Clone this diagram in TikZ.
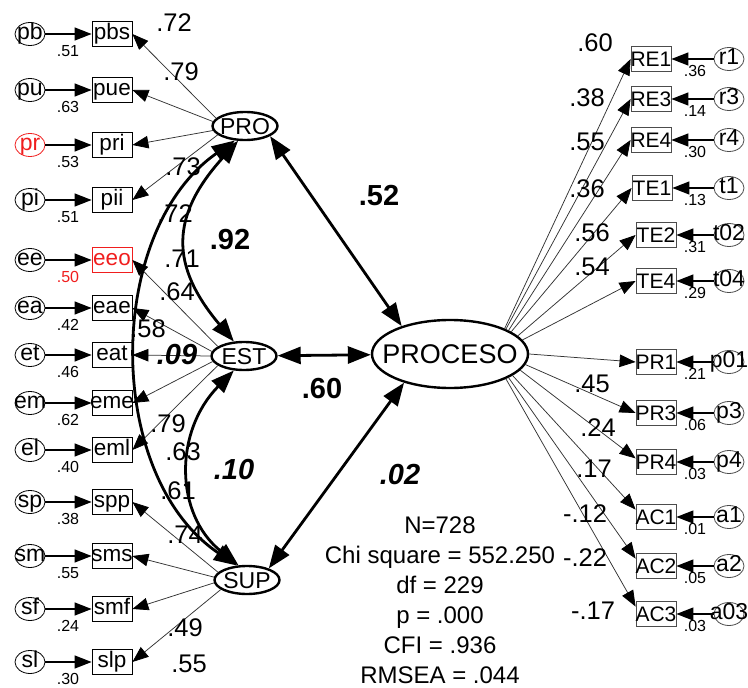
\documentclass[tikz,border=0pt]{standalone}
\usepackage{fontspec}
\setmainfont{Liberation Sans}
\usetikzlibrary{arrows.meta,shapes.geometric}
\definecolor{amosred}{RGB}{240,30,30}
\newcommand{\zw}[1]{\makebox[0pt]{#1}}
\begin{document}
\begin{tikzpicture}[x=1pt,y=-1pt,
  obs/.style={draw=black!70, line width=0.8pt, rectangle, minimum width=40pt, minimum height=25pt,
    inner sep=0pt, font=\fontsize{22.5}{22}\selectfont, text height=16.2pt, text depth=4.7pt},
  obsr/.style={draw=black!70, line width=0.8pt, rectangle, minimum width=40pt, minimum height=25pt,
    inner sep=0pt, font=\fontsize{21}{22}\selectfont, text height=15pt, text depth=0pt},
  err/.style={draw=black!70, line width=0.8pt, ellipse, minimum width=30pt, minimum height=23pt,
    inner sep=0pt, font=\fontsize{23}{23}\selectfont, text height=11.9pt, text depth=0pt},
  lat/.style={draw, line width=2.4pt, ellipse, minimum width=65pt, minimum height=28pt,
    inner sep=0pt, font=\fontsize{23}{23}\selectfont, text height=16.4pt, text depth=0pt},
  load/.style={draw=black!80, line width=0.75pt, -{Triangle[length=16pt,width=12.5pt,color=black]}},
  erra/.style={draw, line width=1.2pt, -{Triangle[length=17pt,width=13pt]}},
  cov/.style={draw, line width=2.8pt, {Triangle[length=23pt,width=17pt]}-{Triangle[length=23pt,width=17pt]}},
  coef/.style={font=\fontsize{25.5}{25}\selectfont, inner sep=0pt, text height=18.2pt, text depth=0pt},
  var/.style={font=\fontsize{16}{16}\selectfont, inner sep=0pt, text height=11.5pt, text depth=0pt},
  big/.style={font=\fontsize{29}{29}\selectfont\bfseries, inner sep=0pt, text height=20.8pt, text depth=0pt},
  bigit/.style={font=\fontsize{29}{29}\selectfont\bfseries\itshape, inner sep=0pt, text height=20.8pt, text depth=0pt},
  fitstat/.style={font=\fontsize{24}{24}\selectfont, inner sep=0pt, text height=17.2pt, text depth=0pt},
]
\useasboundingbox (0,0) rectangle (748,688);

% latent factors
\node[lat] (PRO) at (245,126) {\zw{PRO}};
\node[lat] (EST) at (244,356) {\zw{EST}};
\node[lat] (SUP) at (247,580) {\zw{SUP}};
\node[lat, minimum width=156pt, minimum height=68pt, font=\fontsize{27}{27}\selectfont, text height=19.3pt]
  (PROCESO) at (450,354) {\zw{PROCESO}};

% left indicators: error / item / row / squared loading / colours
\foreach \e/\o/\y/\v/\ce/\co/\cv in {
  pb/pbs/34/.51/black/black/black,
  pu/pue/90/.63/black/black/black,
  pr/pri/145/.53/amosred/black/black,
  pi/pii/200/.51/black/black/black,
  ee/eeo/260/.50/black/amosred/amosred,
  ea/eae/308/.42/black/black/black,
  et/eat/355/.46/black/black/black,
  em/eme/403/.62/black/black/black,
  el/eml/450/.40/black/black/black,
  sp/spp/502/.38/black/black/black,
  sm/sms/556/.55/black/black/black,
  sf/smf/609/.24/black/black/black,
  sl/slp/662/.30/black/black/black}{
  \node[err, draw=\ce, text=\ce] (e-\e) at (30,\y) {\zw{\e}};
  \node[obs, draw=\co, text=\co] (\o) at (112,\y) {\zw{\o}};
  \node[var, text=\cv] (v-\o) at (68,\y+17) {\v};
  \draw[erra] (e-\e) -- (\o);
}

% right indicators
\foreach \o/\e/\y/\x/\v in {
  RE1/r1/59/651/.36, RE3/r3/99/651/.14, RE4/r4/140/651/.30,
  TE1/t1/188/652/.13, TE2/t02/235/656/.31, TE4/t04/281/656/.29,
  PR1/p01/362/656/.21, PR3/p3/413/656/.06, PR4/p4/462/656/.03,
  AC1/a1/517/656/.01, AC2/a2/566/656/.05, AC3/a03/614/656/.03}{
  \node[obsr] (\o) at (\x,\y) {\zw{\o}};
  \node[err] (e-\e) at (729,\y) {\zw{\e}};
  \node[var] (v-\o) at (695,\y+12) {\v};
  \draw[erra] (e-\e) -- (\o);
}

% factor loadings
\foreach \o/\a in {pbs/165, pue/172, pri/188, pii/198}
  \draw[load] (PRO.\a) -- (\o.east);
\foreach \o/\a in {eeo/160, eae/172, eat/180, eme/190, eml/200}
  \draw[load] (EST.\a) -- (\o.east);
\foreach \o/\a in {spp/165, sms/175, smf/185, slp/200}
  \draw[load] (SUP.\a) -- (\o.east);
\foreach \o/\a/\b in {RE1/25/west, RE3/24/west, RE4/22/west, TE1/20/west, TE2/15/west,
  TE4/11/west, PR1/0/west, PR3/352/west, PR4/347/170, AC1/341/160, AC2/338/160, AC3/336/160}
  \draw[load] (PROCESO.\a) -- (\o.\b);

% factor covariances and structural paths
\draw[cov] (PRO.235) .. controls +(-130,91) and +(-133,-90) .. (SUP.125);
\draw[cov] (PRO.245) .. controls +(-68,75) and +(-64,-76) .. (EST.125);
\draw[cov] (EST.235) .. controls +(-60,61) and +(-64,-51) .. (SUP.120);
\draw[cov] (PRO.338) -- (PROCESO.150);
\draw[cov] (EST) -- (PROCESO);
\draw[cov] (SUP.28) -- (PROCESO.212);

% standardized loadings, left
\node[coef] (k1) at (174,22) {.72};
\node[coef] (k2) at (181,71) {.79};
\node[coef] (k3) at (183,166) {.73};
\node[coef] (k4) at (175,213) {.72};
\node[coef] (k5) at (182,258) {.71};
\node[coef] (k6) at (177,291) {.64};
\node[coef] (k7) at (148,328) {.58};
\node[coef] (k8) at (168,423) {.79};
\node[coef] (k9) at (183,451) {.63};
\node[coef] (k10) at (178,490) {.61};
\node[coef] (k11) at (185,534) {.74};
\node[coef] (k12) at (185,627) {.49};
\node[coef] (k13) at (189,663) {.55};

% standardized loadings, right
\node[coef] (q1) at (595,42) {.60};
\node[coef] (q2) at (587,97) {.38};
\node[coef] (q3) at (587,141) {.55};
\node[coef] (q4) at (587,188) {.36};
\node[coef] (q5) at (592,232) {.56};
\node[coef] (q6) at (592,266) {.54};
\node[coef] (q7) at (592,383) {.45};
\node[coef] (q8) at (598,427) {.24};
\node[coef] (q9) at (594,468) {.17};
\node[coef] (q10) at (585,513) {-.12};
\node[coef] (q11) at (585,557) {-.22};
\node[coef] (q12) at (593,610) {-.17};

% correlations and path coefficients
\node[big] (r1) at (230,239) {.92};
\node[big] (r2) at (379,195) {.52};
\node[big] (r3) at (322,388) {.60};
\node[bigit] (r4) at (177,354) {.09};
\node[bigit] (r5) at (234,469) {.10};
\node[bigit] (r6) at (400,474) {.02};

% fit indices
\node[fitstat] (f1) at (440,525) {N=728};
\node[fitstat] (f2) at (440,555) {Chi square = 552.250};
\node[fitstat] (f3) at (440,585) {df = 229};
\node[fitstat] (f4) at (440,615) {p = .000};
\node[fitstat] (f5) at (440,645) {CFI = .936};
\node[fitstat] (f6) at (440,675) {RMSEA = .044};
\end{tikzpicture}
\end{document}
